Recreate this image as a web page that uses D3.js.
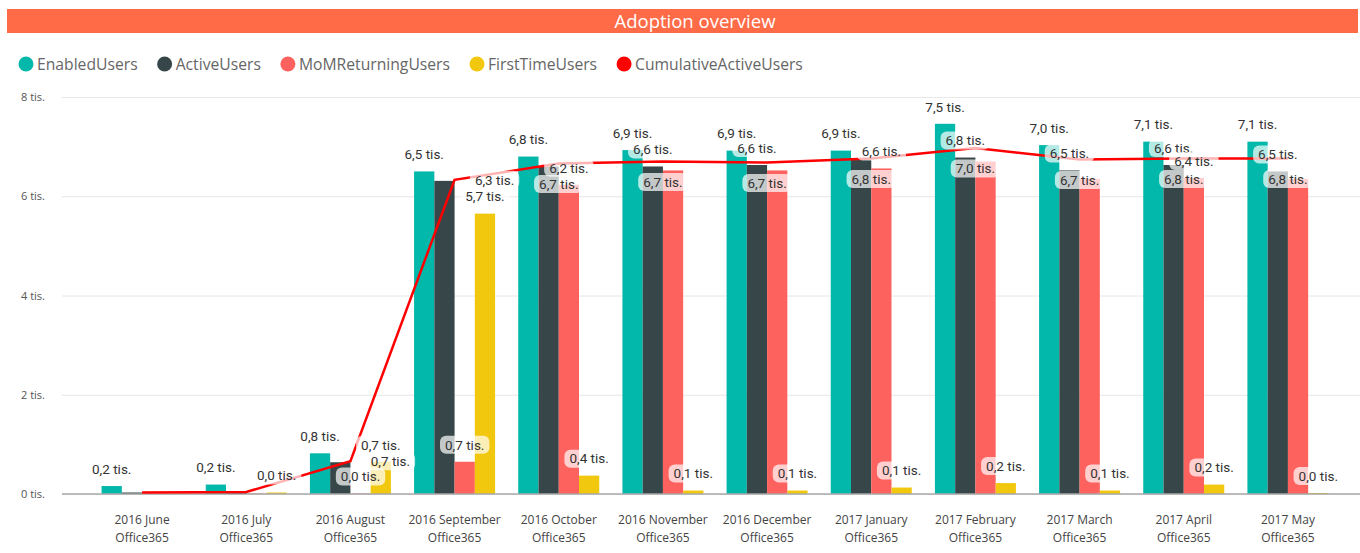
<!DOCTYPE html>
<html>
<head>
<meta charset="utf-8">
<script src="https://cdn.jsdelivr.net/npm/d3@7"></script>
<style>
  body { margin: 0; background: #fff; }
  text { font-family: "Open Sans", "Noto Sans", sans-serif; }
</style>
</head>
<body>
<div id="chart"></div>
<script>
var months = ["2016 June", "2016 July", "2016 August", "2016 September", "2016 October",
  "2016 November", "2016 December", "2017 January", "2017 February", "2017 March",
  "2017 April", "2017 May"];
var product = "Office365";
var seriesNames = ["EnabledUsers", "ActiveUsers", "MoMReturningUsers", "FirstTimeUsers", "CumulativeActiveUsers"];

var enabledUsers = [160, 190, 820, 6500, 6800, 6930, 6920, 6920, 7460, 7030, 7100, 7100];
var activeUsers = [30, 20, 640, 6310, 6600, 6600, 6630, 6730, 6780, 6520, 6630, 6500];
var momReturningUsers = [null, 10, 10, 650, 6230, 6520, 6520, 6560, 6700, 6350, 6370, 6350];
var firstTimeUsers = [null, 30, 650, 5650, 370, 70, 70, 130, 220, 70, 190, 20];
var cumulativeActiveUsers = [30, 40, 660, 6330, 6660, 6700, 6680, 6760, 6970, 6740, 6760, 6760];

var yTicks = [0, 2000, 4000, 6000, 8000];

function init() {
  var w = 1360;
  var h = 553;
  var plotLeft = 62;
  var plotTop = 97;
  var plotBottom = 494;
  var colors = ["#01B8AA", "#374649", "#FD625E", "#F2C80F", "#FF0000"];
  var barData = [enabledUsers, activeUsers, momReturningUsers, firstTimeUsers];

  var svg = d3.select("#chart")
    .append("svg")
    .attr("width", w)
    .attr("height", h);

  // title bar
  svg.append("rect")
    .attr("x", 7).attr("y", 9)
    .attr("width", w - 9).attr("height", 24)
    .attr("fill", "#FF6B47");
  svg.append("text")
    .attr("x", 695).attr("y", 27.5)
    .attr("text-anchor", "middle")
    .attr("fill", "#fff")
    .style("font-size", "18.5px")
    .text("Adoption overview");

  // legend
  var legendX = 26;
  seriesNames.forEach(function(name, i) {
    svg.append("circle")
      .attr("cx", legendX).attr("cy", 64).attr("r", 7.5)
      .attr("fill", colors[i]);
    var t = svg.append("text")
      .attr("x", legendX + 11).attr("y", 69.5)
      .attr("fill", "#666")
      .style("font-size", "15.7px")
      .text(name);
    legendX += 11 + t.node().getComputedTextLength() + 27;
  });

  var xScale = d3.scaleBand()
    .domain(months)
    .range([90, 1340]);
  var subScale = d3.scaleBand()
    .domain(d3.range(barData.length))
    .range([0, 81]);
  var yScale = d3.scaleLinear()
    .domain([0, 8000])
    .range([plotBottom, plotTop]);

  function cx(i) {
    return xScale(months[i]) + xScale.bandwidth() / 2;
  }
  function barX(i, s) {
    return cx(i) - 40.5 + subScale(s);
  }

  // y axis + grid
  var yAxis = d3.axisLeft(yScale)
    .tickValues(yTicks)
    .tickSize(-(w - plotLeft))
    .tickPadding(17)
    .tickFormat(function(d) { return (d / 1000) + " tis."; });
  var gy = svg.append("g")
    .attr("transform", "translate(" + plotLeft + ",0)")
    .call(yAxis);
  gy.select(".domain").remove();
  gy.selectAll(".tick line").attr("stroke", "#e6e6e6");
  gy.selectAll(".tick text")
    .attr("fill", "#555")
    .style("font-size", "11px")
    .style("font-family", "'Open Sans', sans-serif");

  // x axis
  var xAxis = d3.axisBottom(xScale).tickSize(0).tickPadding(0);
  var gx = svg.append("g")
    .attr("transform", "translate(0," + plotBottom + ")")
    .call(xAxis);
  gx.select(".domain").remove();
  gx.selectAll(".tick text").remove();
  gx.selectAll(".tick").each(function(d) {
    var t = d3.select(this).append("text")
      .attr("text-anchor", "middle")
      .attr("fill", "#444")
      .style("font-size", "12px")
      .style("font-family", "'Open Sans', sans-serif");
    t.append("tspan").attr("x", 0).attr("y", 30).text(d);
    t.append("tspan").attr("x", 0).attr("y", 48).text(product);
  });

  // bars
  barData.forEach(function(values, s) {
    var pts = values
      .map(function(v, i) { return { v: v, i: i }; })
      .filter(function(d) { return d.v != null; });
    svg.append("g")
      .selectAll("rect")
      .data(pts)
      .enter()
      .append("rect")
      .attr("x", function(d) { return barX(d.i, s); })
      .attr("y", function(d) { return yScale(d.v); })
      .attr("width", subScale.bandwidth())
      .attr("height", function(d) { return plotBottom - yScale(d.v); })
      .attr("fill", colors[s]);
  });

  // zero line
  svg.append("line")
    .attr("x1", plotLeft).attr("x2", w)
    .attr("y1", yScale(0)).attr("y2", yScale(0))
    .attr("stroke", "#a8a8a8")
    .attr("stroke-width", 1.5);

  // cumulative line
  var line = d3.line()
    .x(function(d, i) { return cx(i); })
    .y(function(d) { return yScale(d); });
  svg.append("path")
    .datum(cumulativeActiveUsers)
    .attr("d", line)
    .attr("fill", "none")
    .attr("stroke", colors[4])
    .attr("stroke-width", 2.5);

  // data labels, hidden or moved when they collide (like Power BI)
  var labelLayer = svg.append("g");
  var measure = svg.append("text").style("font-family", "Roboto, sans-serif").style("font-size", "13.5px");
  var placed = [];

  function fmt(v) {
    return (v / 1000).toFixed(1).replace(".", ",") + " tis.";
  }

  function tryPlace(txt, x, y) {
    measure.text(txt);
    var tw = measure.node().getComputedTextLength();
    var box = { x0: x - tw / 2 - 1, x1: x + tw / 2 + 1, y0: y - 6, y1: y + 6 };
    if (box.y1 > plotBottom || box.y0 < plotTop - 8) return false;
    for (var k = 0; k < placed.length; k++) {
      var p = placed[k];
      if (box.x0 < p.x1 && box.x1 > p.x0 && box.y0 < p.y1 && box.y1 > p.y0) return false;
    }
    placed.push(box);
    labelLayer.append("rect")
      .attr("x", x - tw / 2 - 5).attr("y", y - 9)
      .attr("width", tw + 10).attr("height", 18)
      .attr("rx", 6)
      .attr("fill", "#fff")
      .attr("fill-opacity", 0.7);
    labelLayer.append("text")
      .attr("x", x).attr("y", y + 4.8)
      .attr("text-anchor", "middle")
      .attr("fill", "#333")
      .style("font-family", "Roboto, sans-serif")
      .style("font-size", "13.5px")
      .text(txt);
    return true;
  }

  barData.forEach(function(values, s) {
    values.forEach(function(v, i) {
      if (v == null) return;
      tryPlace(fmt(v), barX(i, s) + subScale.bandwidth() / 2, yScale(v) - 17);
    });
  });

  cumulativeActiveUsers.forEach(function(v, i) {
    var px = cx(i);
    var py = yScale(v);
    var txt = fmt(v);
    if (tryPlace(txt, px, py + 20.5)) return;
    if (tryPlace(txt, px, py - 22)) return;
    if (tryPlace(txt, px + 40, py)) return;
    tryPlace(txt, px - 40, py);
  });

  measure.remove();
}

window.onload = init;
</script>
</body>
</html>
